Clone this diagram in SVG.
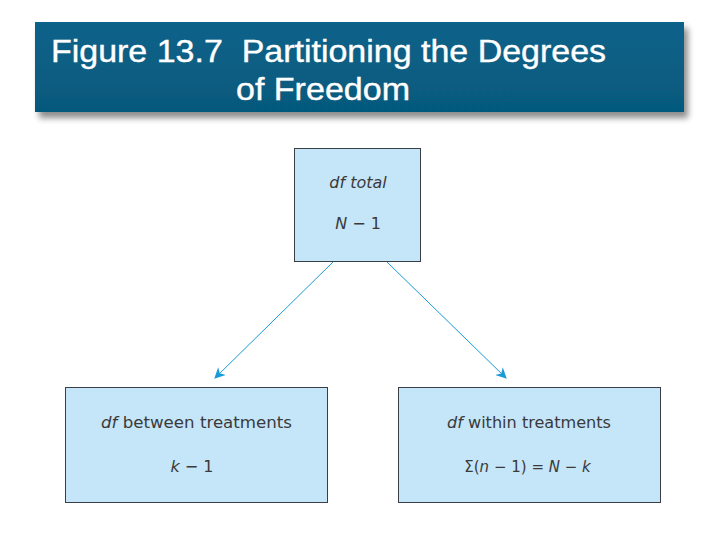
<svg xmlns="http://www.w3.org/2000/svg" width="720" height="540" viewBox="0 0 720 540">
<defs>
<linearGradient id="tg" x1="0" y1="0" x2="0" y2="1">
<stop offset="0" stop-color="#0a6289"/>
<stop offset="1" stop-color="#06597d"/>
</linearGradient>
<filter id="sh" x="-5%" y="-20%" width="115%" height="150%">
<feGaussianBlur in="SourceAlpha" stdDeviation="3"/>
<feOffset dx="4" dy="6" result="b"/>
<feComponentTransfer><feFuncA type="linear" slope="0.45"/></feComponentTransfer>
<feMerge><feMergeNode/><feMergeNode in="SourceGraphic"/></feMerge>
</filter>
<marker id="ah" viewBox="0 0 10 10" refX="9" refY="5" markerWidth="11" markerHeight="11" markerUnits="userSpaceOnUse" orient="auto">
<path d="M0,0 L10,5 L0,10 L3,5 Z" fill="#1a9ad6"/>
</marker>
<style>
.box{fill:#c5e5f9;stroke:#3a3f45;stroke-width:1}
.t{font-family:"DejaVu Sans","Liberation Sans",sans-serif;font-size:16px;fill:#3a3a3a;text-anchor:middle}
.it{font-style:italic}
.ttl{font-family:"Liberation Sans",Arial,sans-serif;font-size:32px;fill:#fff;stroke:#fff;stroke-width:0.4}
.c{stroke:#1a9ad6;stroke-width:1;fill:none;marker-end:url(#ah)}
</style>
</defs>
<rect width="720" height="540" fill="#fff"/>
<g id="title">
<rect x="35" y="22" width="649" height="90" fill="url(#tg)" filter="url(#sh)"/>
<text class="ttl" x="51" y="62" textLength="555" lengthAdjust="spacingAndGlyphs" xml:space="preserve">Figure 13.7  Partitioning the Degrees</text>
<text class="ttl" x="236" y="100" textLength="174" lengthAdjust="spacingAndGlyphs">of Freedom</text>
</g>
<g id="connectors">
<line class="c" x1="333" y1="262" x2="215" y2="378"/>
<line class="c" x1="387" y1="262" x2="506" y2="378"/>
</g>
<g id="total">
<rect class="box" x="294.5" y="148.5" width="126" height="113"/>
<text class="t" x="358" y="188"><tspan class="it">df total</tspan></text>
<text class="t" x="358" y="229"><tspan class="it">N</tspan> − 1</text>
</g>
<g id="between">
<rect class="box" x="65.5" y="387.5" width="262" height="115"/>
<text class="t" x="196.5" y="428" textLength="191" lengthAdjust="spacingAndGlyphs"><tspan class="it">df</tspan> between treatments</text>
<text class="t" x="192" y="472"><tspan class="it">k</tspan> − 1</text>
</g>
<g id="within">
<rect class="box" x="398.5" y="387.5" width="262" height="115"/>
<text class="t" x="529" y="428" textLength="164" lengthAdjust="spacingAndGlyphs"><tspan class="it">df</tspan> within treatments</text>
<text class="t" x="527.5" y="472" style="font-size:15px">Σ(<tspan class="it">n</tspan> − 1) = <tspan class="it">N</tspan> − <tspan class="it">k</tspan></text>
</g>
</svg>
